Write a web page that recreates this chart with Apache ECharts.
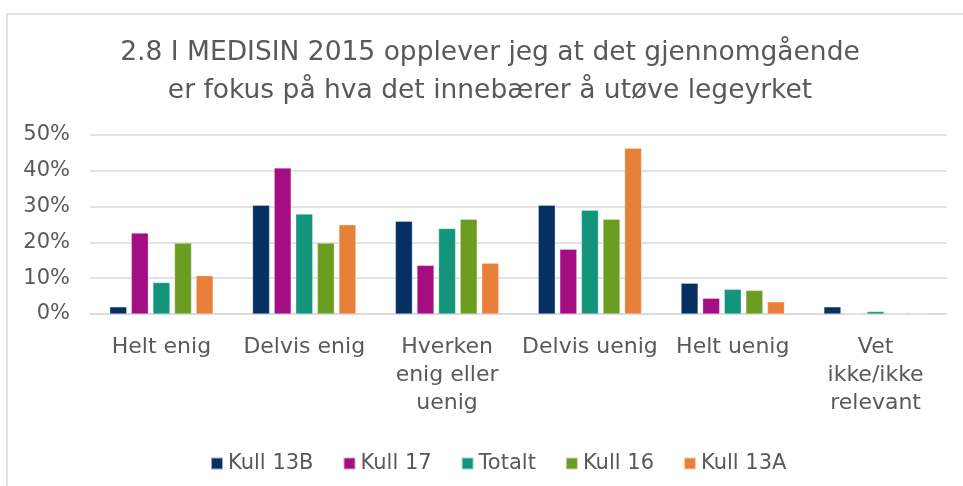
<!DOCTYPE html>
<html>
<head>
<meta charset="utf-8">
<script src="https://cdn.jsdelivr.net/npm/echarts@6/dist/echarts.min.js"></script>
<style>
  html, body { margin: 0; padding: 0; background: #fff; }
  #chart { width: 963px; height: 486px; }
</style>
</head>
<body>
<div id="chart"></div>
<script>
// Verdier lest av figuren (andel i %)
const categories = ['Helt enig', 'Delvis enig', 'Hverken\nenig eller\nuenig', 'Delvis uenig', 'Helt uenig', 'Vet\nikke/ikke\nrelevant'];
const kull13B = [2, 30.4, 25.9, 30.4, 8.6, 2];
const kull17 = [22.6, 40.8, 13.6, 18.1, 4.4, 0];
const totalt = [8.8, 27.9, 23.9, 29, 6.9, 0.7];
const kull16 = [19.8, 19.8, 26.5, 26.5, 6.6, 0];
const kull13A = [10.7, 24.9, 14.2, 46.3, 3.4, 0];
const yTicks = [0, 10, 20, 30, 40, 50];
const TITLE = '2.8 I MEDISIN 2015 opplever jeg at det gjennomgående\ner fokus på hva det innebærer å utøve legeyrket';

const FONT = 'DejaVu Sans';
const TEXT = '#595959';

const seriesDefs = [
  { name: 'Kull 13B', data: kull13B, color: '#053061' },
  { name: 'Kull 17', data: kull17, color: '#a50d82' },
  { name: 'Totalt', data: totalt, color: '#13957b' },
  { name: 'Kull 16', data: kull16, color: '#6b9e20' },
  { name: 'Kull 13A', data: kull13A, color: '#e8803a' },
];

const chart = echarts.init(document.getElementById('chart'));
chart.setOption({
  animation: false,
  textStyle: { fontFamily: FONT },
  graphic: [
    {
      type: 'rect',
      shape: { x: 7, y: 14, width: 980, height: 500 },
      style: { fill: 'none', stroke: '#d9d9d9', lineWidth: 1.5 },
      z: -1,
    },
    {
      // tittel som fri tekst, sentrert litt til høyre for midten
      type: 'text',
      x: 490,
      y: 34,
      style: {
        text: TITLE,
        fontFamily: FONT,
        fontSize: 26.5,
        fill: TEXT,
        lineHeight: 38,
        align: 'center',
        verticalAlign: 'top',
      },
    },
  ],
  legend: {
    top: 448,
    left: 205,
    itemWidth: 12,
    itemHeight: 12,
    itemGap: 29,
    icon: 'rect',
    textStyle: { fontFamily: FONT, fontSize: 21, color: TEXT },
  },
  grid: { left: 90, right: 16, top: 135, bottom: 172, containLabel: false },
  xAxis: {
    type: 'category',
    data: categories,
    axisLine: { lineStyle: { color: '#d9d9d9', width: 1.5 } },
    axisTick: { show: false },
    axisLabel: { fontFamily: FONT, fontSize: 22, color: TEXT, lineHeight: 28, margin: 19, interval: 0 },
  },
  yAxis: {
    type: 'value',
    min: yTicks[0],
    max: yTicks[yTicks.length - 1],
    interval: 10,
    axisLine: { show: false },
    axisTick: { show: false },
    splitLine: { lineStyle: { color: '#d9d9d9', width: 1.5 } },
    axisLabel: { fontFamily: FONT, fontSize: 21, color: TEXT, margin: 20, formatter: '{value}%' },
  },
  series: seriesDefs.map((s) => ({
    name: s.name,
    type: 'bar',
    data: s.data,
    barWidth: 17,
    barGap: '27%',
    itemStyle: { color: s.color, borderColor: 'rgba(255,255,255,0.6)', borderWidth: 0.5 },
  })),
});
</script>
</body>
</html>
